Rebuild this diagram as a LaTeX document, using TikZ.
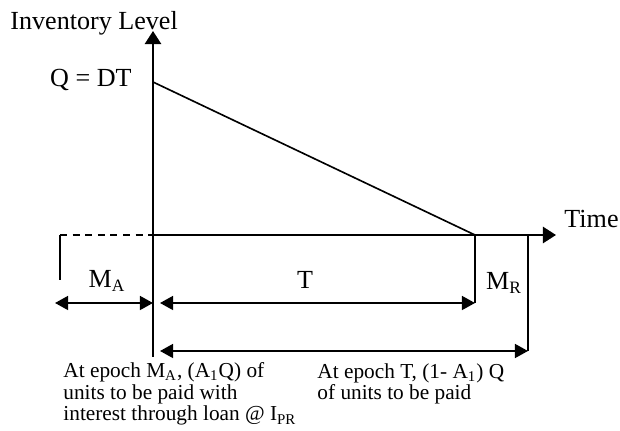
\documentclass[tikz,border=0pt]{standalone}
\usepackage{fontspec}
\setmainfont{Liberation Serif}
\usetikzlibrary{arrows.meta}

\begin{document}
\begin{tikzpicture}[
    x=0.46pt, y=-0.46pt,
    invaxis/.style={draw=black, line width=1.1pt, -{Triangle[length=6pt,width=7.4pt]}},
    invline/.style={draw=black, line width=0.75pt},
    invthin/.style={draw=black, line width=0.55pt},
    invdash/.style={draw=black, line width=0.75pt, dash pattern=on 3.2pt off 2.6pt},
    invdim/.style={draw=black, line width=0.8pt, {Triangle[length=6pt,width=6.4pt]}-{Triangle[length=6pt,width=6.4pt]}},
    invlabel/.style={font=\fontsize{12}{13.5}\selectfont, inner sep=0pt},
    invnote/.style={font=\fontsize{9.8}{10.1}\selectfont, inner sep=0pt, align=left}
]
  \useasboundingbox (0,0) rectangle (620,431);
  % points on the axes
  \coordinate (origin) at (153,235);
  \coordinate (ytop) at (153,31);
  \coordinate (ybot) at (153,357);
  \coordinate (xend) at (556,235);
  \coordinate (qstart) at (153,82);
  \coordinate (tend) at (475,235);
  \coordinate (tfoot) at (475,303);
  \coordinate (mrend) at (528,235);
  \coordinate (mrfoot) at (528,351);
  \coordinate (dashleft) at (60,235);
  \coordinate (dashfoot) at (60,280);
  % dimension ends
  \coordinate (maleft) at (55,303);
  \coordinate (maright) at (153,303);
  \coordinate (tleft) at (160,303);
  \coordinate (longleft) at (160,351);

  % axes
  \draw[invaxis] (ybot) -- (ytop);
  \draw[invaxis] (origin) -- (xend);
  \draw[invdash] (dashleft) -- (origin);
  \draw[invthin] (dashleft) -- (dashfoot);

  % stock falls from Q to zero
  \draw[invline] (qstart) -- (tend);
  \draw[invline] (tend) -- (tfoot);
  \draw[invline] (mrend) -- (mrfoot);

  % periods
  \draw[invdim] (maleft) -- (maright);
  \draw[invdim] (tleft) -- (tfoot);
  \draw[invdim] (longleft) -- (mrfoot);

  % labels
  \node[invlabel, anchor=base west] (ylabel) at (10,30) {Inventory Level};
  \node[invlabel, anchor=base east] (qlabel) at (132,87) {Q = DT};
  \node[invlabel, anchor=base west] (xlabel) at (564,228) {Time};
  \node[invlabel, anchor=base] (malabel) at (107,288) {M\textsubscript{A}};
  \node[invlabel, anchor=base] (tlabel) at (305,289) {T};
  \node[invlabel, anchor=base] (mrlabel) at (504,290) {M\textsubscript{R}};
  \node[invnote, anchor=base west] (leftnote) at (63,421)
    {At epoch M\textsubscript{A}, (A\textsubscript{1}Q) of\\units to be paid with\\interest through loan @ I\textsubscript{PR}};
  \node[invnote, anchor=base west] (rightnote) at (317,400)
    {At epoch T, (1- A\textsubscript{1}) Q\\of units to be paid};
\end{tikzpicture}
\end{document}
